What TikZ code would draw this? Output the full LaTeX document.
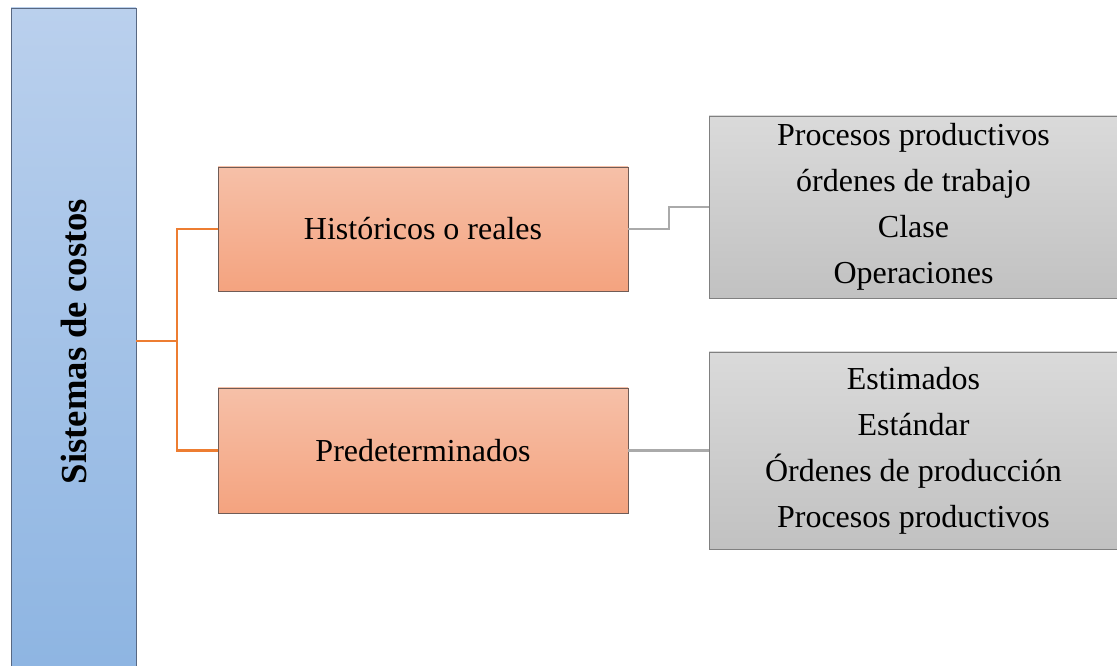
\documentclass[tikz,border=0pt]{standalone}
\usepackage{fontspec}
\setmainfont{Liberation Serif}
\definecolor{bartop}{RGB}{186,208,237}
\definecolor{barbot}{RGB}{142,181,226}
\definecolor{barline}{RGB}{88,104,130}
\definecolor{ortop}{RGB}{246,192,168}
\definecolor{orbot}{RGB}{244,163,127}
\definecolor{orline}{RGB}{112,92,86}
\definecolor{grtop}{RGB}{218,218,218}
\definecolor{grbot}{RGB}{193,193,193}
\definecolor{grline}{RGB}{128,128,128}
\definecolor{orconn}{RGB}{237,125,49}
\definecolor{grconn}{RGB}{170,170,170}
\begin{document}
\begin{tikzpicture}[x=0.75pt,y=-0.75pt,
	barbox/.style={draw=barline,line width=0.6pt,top color=bartop,bottom color=barbot,minimum width=93.75pt,minimum height=494.25pt,inner sep=0pt},
	typebox/.style={draw=orline,line width=0.6pt,top color=ortop,bottom color=orbot,minimum width=307.5pt,inner sep=0pt,font=\fontsize{24}{29}\selectfont},
	listbox/.style={draw=grline,line width=0.6pt,top color=grtop,bottom color=grbot,minimum width=306.75pt,inner sep=0pt,align=center,font=\fontsize{24}{34.5}\selectfont},
	orbranch/.style={draw=orconn,line width=1.6pt},
	grbranch/.style={draw=grconn,line width=1.6pt}]
	\useasboundingbox (0,0) rectangle (1117,666);

	%Main bar
	\node [barbox] (sist) at (73.5,337.5) {};
	\node [rotate=90,font=\bfseries\fontsize{27.5}{30}\selectfont] (sisttext) at (73.5,341.5) {Sistemas de costos};

	%Types of cost systems
	\node [typebox,minimum height=93pt] (hist) at (423,229) {Históricos o reales};
	\node [typebox,minimum height=93.75pt] (pred) at (423,450.5) {Predeterminados};

	%Lists
	\node [listbox,minimum height=136.5pt] (proc) at (913.5,207) {Procesos productivos\\órdenes de trabajo\\Clase\\Operaciones};
	\node [listbox,minimum height=147.75pt] (est) at (913.5,450.5) {Estimados\\Estándar\\Órdenes de producción\\Procesos productivos};

	%Connectors
	\coordinate (split) at (177,341);
	\draw [orbranch] (sist.east |- split) -- (split);
	\draw [orbranch] (hist.west) -| (split) |- (pred.west);
	\draw [grbranch] (hist.east) -- ++(41,0) |- (proc.west);
	\draw [grbranch] (pred.east) -- (est.west);
\end{tikzpicture}
\end{document}
